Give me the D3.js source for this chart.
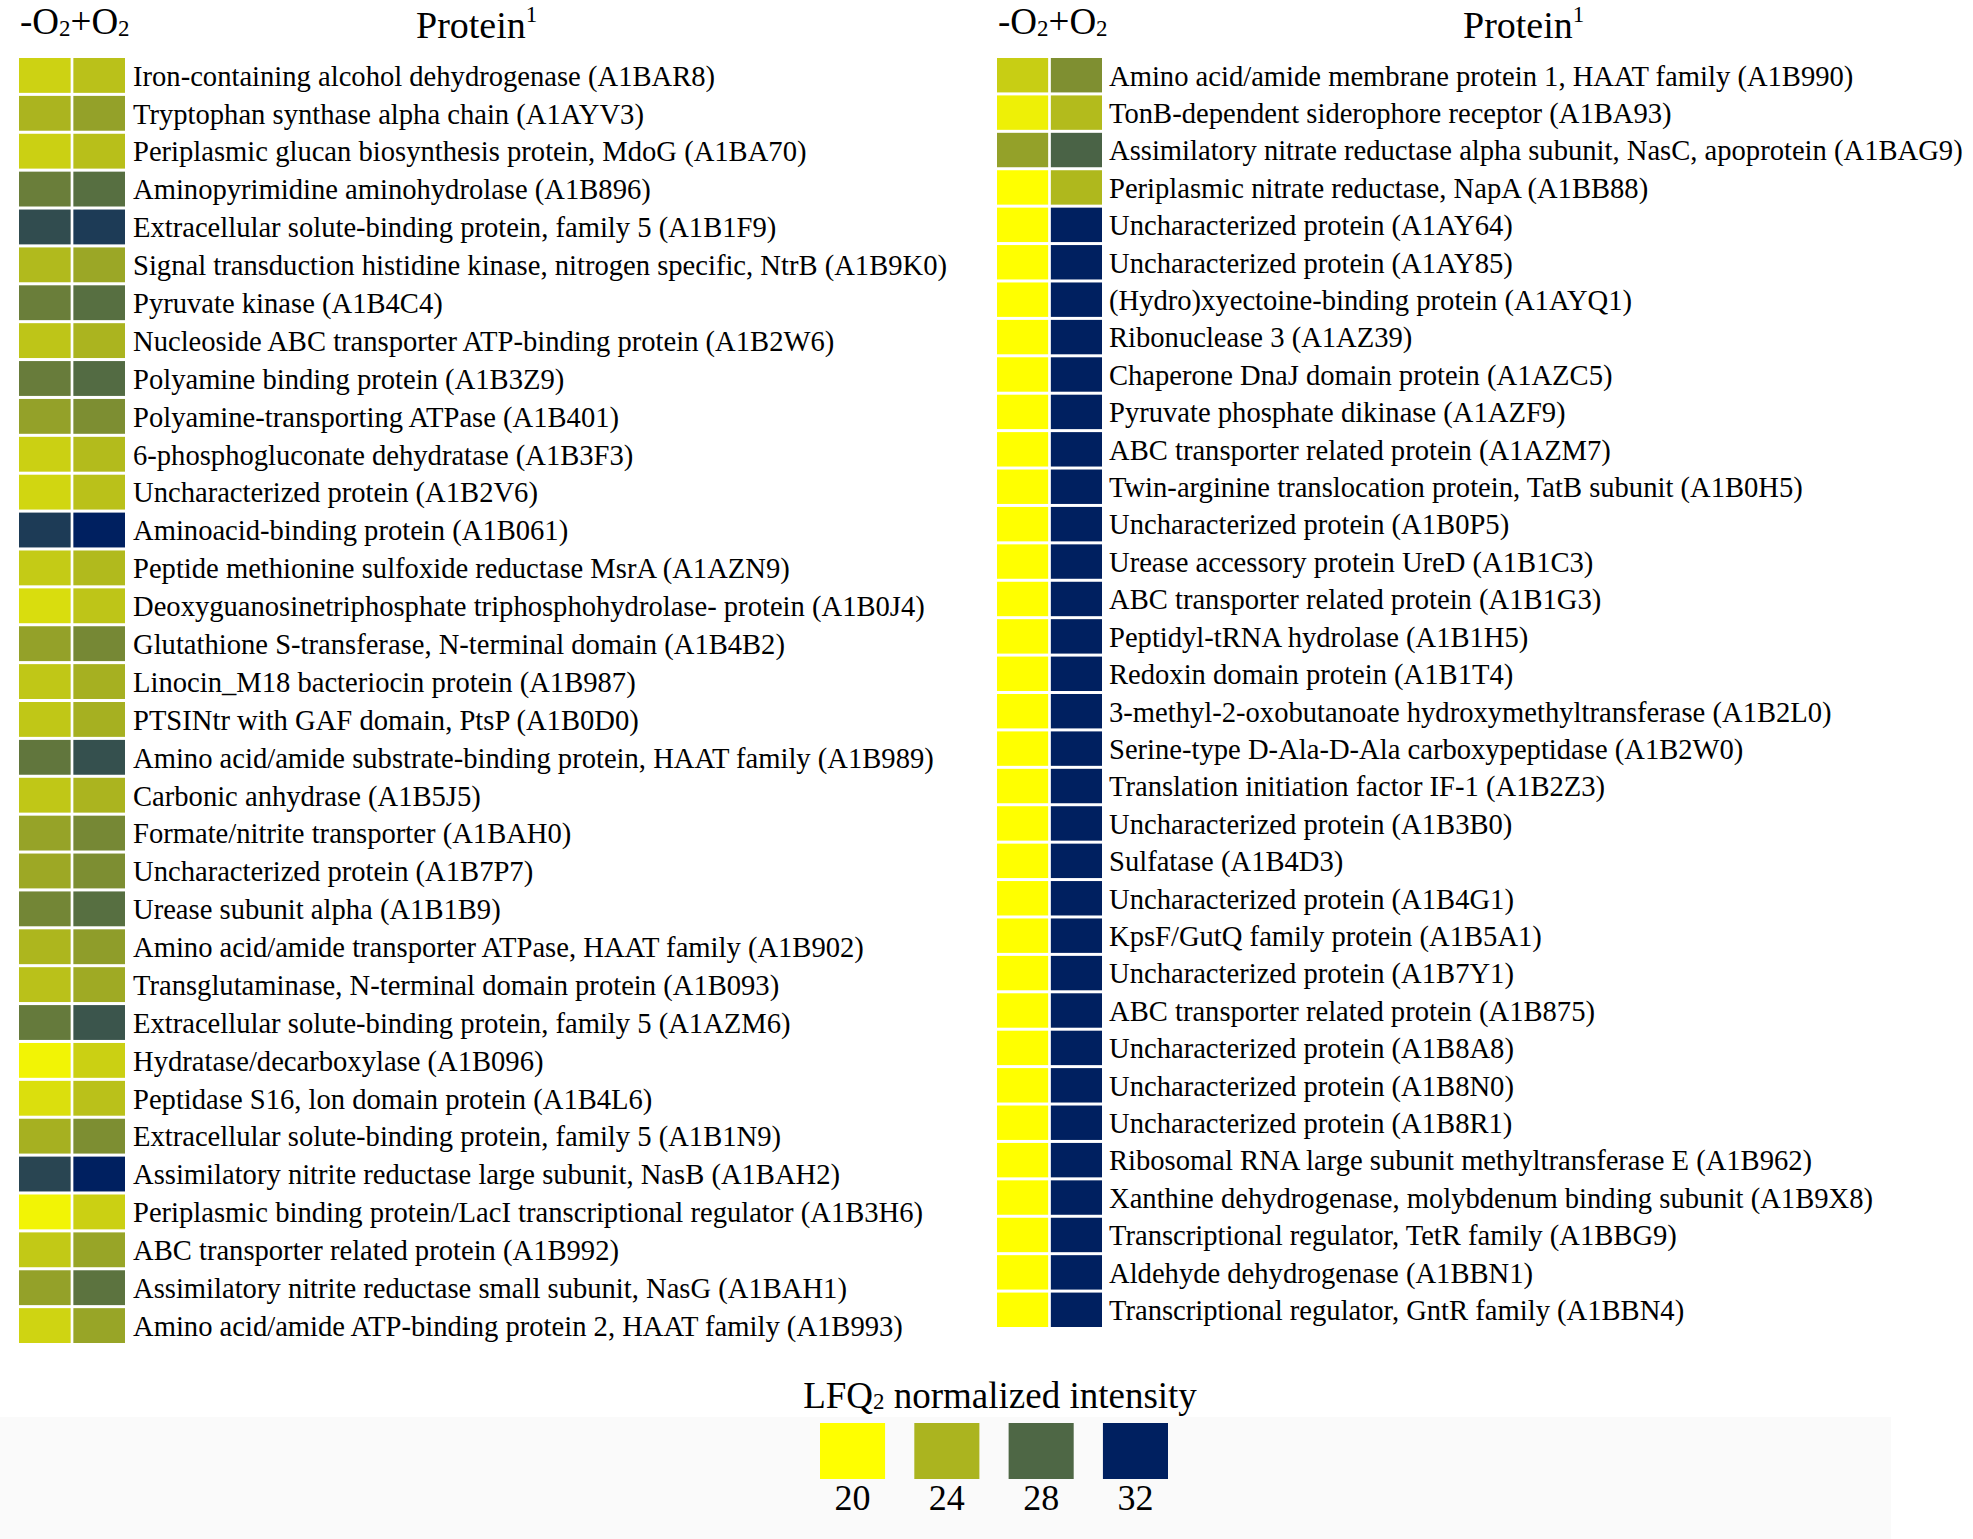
<!DOCTYPE html>
<html><head><meta charset="utf-8">
<script src="https://cdn.jsdelivr.net/npm/d3@7/dist/d3.min.js"></script>
<style>
body{margin:0;background:#fff}
svg{display:block}
text{font-family:"Liberation Serif","Times New Roman",serif;fill:#000}
</style>
</head><body>
<svg id="chart" width="1973" height="1539"></svg>
<script>
// ---------- DATA ----------
const conditions = ["-O2", "+O2"];

const leftProteins = [
  "Iron-containing alcohol dehydrogenase (A1BAR8)",
  "Tryptophan synthase alpha chain (A1AYV3)",
  "Periplasmic glucan biosynthesis protein, MdoG (A1BA70)",
  "Aminopyrimidine aminohydrolase (A1B896)",
  "Extracellular solute-binding protein, family 5 (A1B1F9)",
  "Signal transduction histidine kinase, nitrogen specific, NtrB (A1B9K0)",
  "Pyruvate kinase (A1B4C4)",
  "Nucleoside ABC transporter ATP-binding protein (A1B2W6)",
  "Polyamine binding protein (A1B3Z9)",
  "Polyamine-transporting ATPase (A1B401)",
  "6-phosphogluconate dehydratase (A1B3F3)",
  "Uncharacterized protein (A1B2V6)",
  "Aminoacid-binding protein (A1B061)",
  "Peptide methionine sulfoxide reductase MsrA (A1AZN9)",
  "Deoxyguanosinetriphosphate triphosphohydrolase- protein (A1B0J4)",
  "Glutathione S-transferase, N-terminal domain (A1B4B2)",
  "Linocin_M18 bacteriocin protein (A1B987)",
  "PTSINtr with GAF domain, PtsP (A1B0D0)",
  "Amino acid/amide substrate-binding protein, HAAT family (A1B989)",
  "Carbonic anhydrase (A1B5J5)",
  "Formate/nitrite transporter (A1BAH0)",
  "Uncharacterized protein (A1B7P7)",
  "Urease subunit alpha (A1B1B9)",
  "Amino acid/amide transporter ATPase, HAAT family (A1B902)",
  "Transglutaminase, N-terminal domain protein (A1B093)",
  "Extracellular solute-binding protein, family 5 (A1AZM6)",
  "Hydratase/decarboxylase (A1B096)",
  "Peptidase S16, lon domain protein (A1B4L6)",
  "Extracellular solute-binding protein, family 5 (A1B1N9)",
  "Assimilatory nitrite reductase large subunit, NasB (A1BAH2)",
  "Periplasmic binding protein/LacI transcriptional regulator (A1B3H6)",
  "ABC transporter related protein (A1B992)",
  "Assimilatory nitrite reductase small subunit, NasG (A1BAH1)",
  "Amino acid/amide ATP-binding protein 2, HAAT family (A1B993)"
];
const leftMinusO2 = [22.4,24.0,22.5,26.8,29.5,23.7,26.8,23.1,26.9,25.0,22.5,22.2,30.5,22.8,21.8,25.0,23.0,23.0,27.2,23.0,24.9,24.6,26.4,23.9,23.3,27.0,20.6,21.7,24.2,29.9,20.6,22.9,25.0,22.3];
const leftPlusO2  = [23.3,25.0,23.4,27.6,30.5,24.7,27.6,24.0,27.8,26.0,23.6,23.3,32.0,23.7,23.1,26.3,24.2,24.2,29.3,24.0,26.3,26.0,27.6,25.2,24.5,29.0,22.5,23.3,26.0,32.0,22.5,24.8,27.4,24.8];

const rightProteins = [
  "Amino acid/amide membrane protein 1, HAAT family (A1B990)",
  "TonB-dependent siderophore receptor (A1BA93)",
  "Assimilatory nitrate reductase alpha subunit, NasC, apoprotein (A1BAG9)",
  "Periplasmic nitrate reductase, NapA (A1BB88)",
  "Uncharacterized protein (A1AY64)",
  "Uncharacterized protein (A1AY85)",
  "(Hydro)xyectoine-binding protein (A1AYQ1)",
  "Ribonuclease 3 (A1AZ39)",
  "Chaperone DnaJ domain protein (A1AZC5)",
  "Pyruvate phosphate dikinase (A1AZF9)",
  "ABC transporter related protein (A1AZM7)",
  "Twin-arginine translocation protein, TatB subunit (A1B0H5)",
  "Uncharacterized protein (A1B0P5)",
  "Urease accessory protein UreD (A1B1C3)",
  "ABC transporter related protein (A1B1G3)",
  "Peptidyl-tRNA hydrolase (A1B1H5)",
  "Redoxin domain protein (A1B1T4)",
  "3-methyl-2-oxobutanoate hydroxymethyltransferase (A1B2L0)",
  "Serine-type D-Ala-D-Ala carboxypeptidase (A1B2W0)",
  "Translation initiation factor IF-1 (A1B2Z3)",
  "Uncharacterized protein (A1B3B0)",
  "Sulfatase (A1B4D3)",
  "Uncharacterized protein (A1B4G1)",
  "KpsF/GutQ family protein (A1B5A1)",
  "Uncharacterized protein (A1B7Y1)",
  "ABC transporter related protein (A1B875)",
  "Uncharacterized protein (A1B8A8)",
  "Uncharacterized protein (A1B8N0)",
  "Uncharacterized protein (A1B8R1)",
  "Ribosomal RNA large subunit methyltransferase E (A1B962)",
  "Xanthine dehydrogenase, molybdenum binding subunit (A1B9X8)",
  "Transcriptional regulator, TetR family (A1BBG9)",
  "Aldehyde dehydrogenase (A1BBN1)",
  "Transcriptional regulator, GntR family (A1BBN4)"
];
const rightMinusO2 = [22.6,20.8,25.0,20.0,20,20,20,20,20,20,20,20,20,20,20,20,20,20,20,20,20,20,20,20,20,20,20,20,20,20,20,20,20,20];
const rightPlusO2  = [25.9,23.6,28.2,23.8,32,32,32,32,32,32,32,32,32,32,32,32,32,32,32,32,32,32,32,32,32,32,32,32,32,32,32,32,32,32];

const legendTicks  = [20, 24, 28, 32];
const legendColors = ["#ffff00", "#abb41f", "#4e6745", "#002060"];
const legendTitle  = "LFQ2 normalized intensity";

// ---------- DRAW ----------
const svg = d3.select("#chart");
const color = d3.scaleLinear().domain(legendTicks).range(legendColors).clamp(true);

svg.append("rect").attr("x", 0).attr("y", 1417).attr("width", 1891).attr("height", 122).attr("fill", "#fafafa");

function subText(sel, parts) {
  parts.forEach(p => {
    const t = sel.append("tspan").text(p.t);
    if (p.sub) t.attr("font-size", "0.62em").attr("dy", p.dy || 0);
    else if (p.dy) t.attr("dy", p.dy);
  });
}

function panel(cfg, proteins, minus, plus) {
  const g = svg.append("g");
  const rows = proteins.map((p, i) => ({ p, i, v: [minus[i], plus[i]] }));
  const y = d3.scaleBand().domain(d3.range(proteins.length)).range([cfg.y0, cfg.y1]).paddingInner(0.08);
  const x = d3.scaleBand().domain(conditions).range([cfg.x0, cfg.x1]).paddingInner(0.05);

  const rowG = g.selectAll("g.row").data(rows).join("g").attr("class", "row");
  rowG.selectAll("rect").data(d => conditions.map((c, j) => ({ c, v: d.v[j], i: d.i })))
    .join("rect")
    .attr("x", d => x(d.c)).attr("y", d => y(d.i))
    .attr("width", x.bandwidth()).attr("height", y.bandwidth())
    .attr("fill", d => color(d.v));
  rowG.append("text")
    .attr("x", cfg.labelX).attr("y", d => y(d.i) + y.bandwidth() / 2)
    .attr("dy", "0.36em").attr("font-size", 28.6)
    .text(d => d.p);

  // headers
  const h = g.append("text").attr("x", cfg.x0 + 1).attr("y", 34).attr("font-size", 37);
  subText(h, [{ t: "-O" }, { t: "2", sub: true, dy: 2 }, { t: "+O", dy: -2 }, { t: "2", sub: true, dy: 2 }]);
  const pr = g.append("text").attr("x", cfg.proteinX).attr("y", 38).attr("font-size", 38);
  pr.append("tspan").text("Protein");
  pr.append("tspan").text("1").attr("font-size", 23).attr("dy", -16).attr("dx", 0);
}

panel({ x0: 19, x1: 125, y0: 58, y1: 1343, labelX: 133, proteinX: 416 }, leftProteins, leftMinusO2, leftPlusO2);
panel({ x0: 997, x1: 1102, y0: 58, y1: 1327, labelX: 1109, proteinX: 1463 }, rightProteins, rightMinusO2, rightPlusO2);

// legend
const lx = d3.scaleBand().domain(legendTicks).range([820, 1168]).paddingInner(0.31);
const lg = svg.append("g");
lg.selectAll("rect").data(legendTicks).join("rect")
  .attr("x", d => lx(d)).attr("y", 1423).attr("width", lx.bandwidth()).attr("height", 56)
  .attr("fill", d => color(d));
lg.selectAll("text.tick").data(legendTicks).join("text").attr("class", "tick")
  .attr("x", d => lx(d) + lx.bandwidth() / 2).attr("y", 1510)
  .attr("text-anchor", "middle").attr("font-size", 36).text(d => d);
const lt = lg.append("text").attr("x", 1000).attr("y", 1408).attr("text-anchor", "middle").attr("font-size", 37);
subText(lt, [{ t: legendTitle.slice(0, 3) }, { t: legendTitle.slice(3, 4), sub: true, dy: 1 }, { t: legendTitle.slice(4), dy: -1 }]);
</script>
</body></html>
